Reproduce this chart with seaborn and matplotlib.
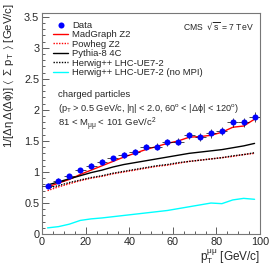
import numpy as np
import pandas as pd
import matplotlib
matplotlib.use('Agg')
import matplotlib.pyplot as plt
from matplotlib.ticker import MultipleLocator
import seaborn as sns

# pT(mumu) bin centres [GeV/c]
pt = [2.5, 7.5, 12.5, 17.5, 22.5, 27.5, 32.5, 37.5, 42.5, 47.5,
      52.5, 57.5, 62.5, 67.5, 72.5, 77.5, 82.5, 87.5, 92.5, 97.5]
pt_err = [2.5] * 20

data = [0.78, 0.855, 0.935, 1.03, 1.10, 1.16, 1.22, 1.27, 1.32, 1.40,
        1.41, 1.48, 1.49, 1.59, 1.57, 1.62, 1.66, 1.80, 1.80, 1.89]
data_err = [0.04, 0.04, 0.04, 0.04, 0.045, 0.045, 0.045, 0.05, 0.05, 0.05,
            0.055, 0.055, 0.06, 0.06, 0.065, 0.065, 0.07, 0.075, 0.075, 0.08]

madgraph = [0.76, 0.82, 0.88, 0.96, 1.03, 1.10, 1.17, 1.24, 1.30, 1.36,
            1.41, 1.46, 1.50, 1.56, 1.57, 1.59, 1.64, 1.72, 1.74, 1.85]
powheg = [0.70, 0.76, 0.81, 0.86, 0.90, 0.93, 0.97, 1.00, 1.03, 1.06,
          1.09, 1.11, 1.14, 1.17, 1.19, 1.21, 1.23, 1.25, 1.28, 1.30]
pythia = [0.79, 0.84, 0.89, 0.94, 0.99, 1.03, 1.08, 1.12, 1.15, 1.18,
          1.21, 1.24, 1.27, 1.30, 1.32, 1.34, 1.36, 1.39, 1.42, 1.46]
herwig = [0.74, 0.78, 0.83, 0.87, 0.91, 0.94, 0.98, 1.01, 1.04, 1.07,
          1.10, 1.12, 1.15, 1.17, 1.19, 1.21, 1.23, 1.26, 1.28, 1.31]
herwig_nompi = [0.10, 0.12, 0.16, 0.22, 0.245, 0.26, 0.28, 0.30, 0.32, 0.34,
                0.36, 0.38, 0.41, 0.44, 0.47, 0.50, 0.49, 0.55, 0.575, 0.56]

sns.set_style('ticks')
plt.rcParams['font.family'] = ['Liberation Sans', 'DejaVu Sans']
plt.rcParams['mathtext.default'] = 'regular'
plt.rcParams['mathtext.fontset'] = 'dejavusans'

fig = plt.figure(figsize=(2.7, 2.7), dpi=100)
ax = fig.add_axes([0.156, 0.133, 0.807, 0.819])

lw = 1.0
sns.lineplot(x=pt, y=madgraph, ax=ax, color='red', lw=lw, label='MadGraph Z2')
sns.lineplot(x=pt, y=powheg, ax=ax, color='red', lw=lw, ls=(0, (1, 1)), label='Powheg Z2')
sns.lineplot(x=pt, y=pythia, ax=ax, color='black', lw=lw, label='Pythia-8 4C')
sns.lineplot(x=pt, y=herwig, ax=ax, color='black', lw=lw, ls=(0, (1, 1)), label='Herwig++ LHC-UE7-2')
sns.lineplot(x=pt, y=herwig_nompi, ax=ax, color='cyan', lw=lw,
             label='Herwig++ LHC-UE7-2 (no MPI)')

ax.errorbar(pt, data, xerr=pt_err, yerr=data_err, fmt='none', ecolor='black',
            elinewidth=0.5, capsize=0, zorder=4)
sns.scatterplot(x=pt, y=data, ax=ax, color='blue', s=19, edgecolor='blue',
                linewidth=0, zorder=5, label='Data')

ax.set_xlim(0, 100)
ax.set_ylim(0, 3.56)
ax.xaxis.set_major_locator(MultipleLocator(20))
ax.xaxis.set_minor_locator(MultipleLocator(5))
ax.yaxis.set_major_locator(MultipleLocator(0.5))
ax.yaxis.set_minor_locator(MultipleLocator(0.1))
ax.yaxis.set_major_formatter(matplotlib.ticker.FuncFormatter(lambda v, p: f'{v:g}'))
ax.tick_params(which='both', direction='in', top=False, right=False,
               labelsize=7.8, color='#444444', width=0.6)
ax.tick_params(which='major', length=5, pad=2)
ax.tick_params(which='minor', length=2.5)
for s in ax.spines.values():
    s.set_color('#777777')
    s.set_linewidth(0.8)

ax.set_xlabel(r'$p_T^{\mu\mu}$ [GeV/c]', fontsize=8.5, loc='right', labelpad=0)
ax.set_ylabel(r'1/[$\Delta\eta\,\Delta(\Delta\phi)$] $\langle\ \Sigma\ p_T\ \rangle$ [GeV/c]',
              fontsize=8.2, loc='top')
ax.yaxis.set_label_coords(-0.12, 1.045)

handles, labels = ax.get_legend_handles_labels()
order = [5, 0, 1, 2, 3, 4]
ax.legend([handles[i] for i in order], [labels[i] for i in order],
          loc='upper left', bbox_to_anchor=(0.05, 0.965), frameon=False,
          fontsize=6.8, handlelength=1.6, handletextpad=0.4, labelspacing=0.05,
          borderpad=0, borderaxespad=0)

ax.text(0.97, 0.94, r'CMS  $\sqrt{s}$ = 7 TeV', transform=ax.transAxes,
        ha='right', va='center', fontsize=6.2)
ax.text(0.074, 0.629, 'charged particles', transform=ax.transAxes,
        ha='left', va='center', fontsize=6.8)
ax.text(0.074, 0.57, r'($p_T$ > 0.5 GeV/c, |$\eta$| < 2.0, 60$^o$ < |$\Delta\phi$| < 120$^o$)',
        transform=ax.transAxes, ha='left', va='center', fontsize=6.6)
ax.text(0.074, 0.498, r'81 < $M_{\mu\mu}$ < 101 GeV/c$^2$', transform=ax.transAxes,
        ha='left', va='center', fontsize=6.8)

fig.savefig('out.png', dpi=100)
